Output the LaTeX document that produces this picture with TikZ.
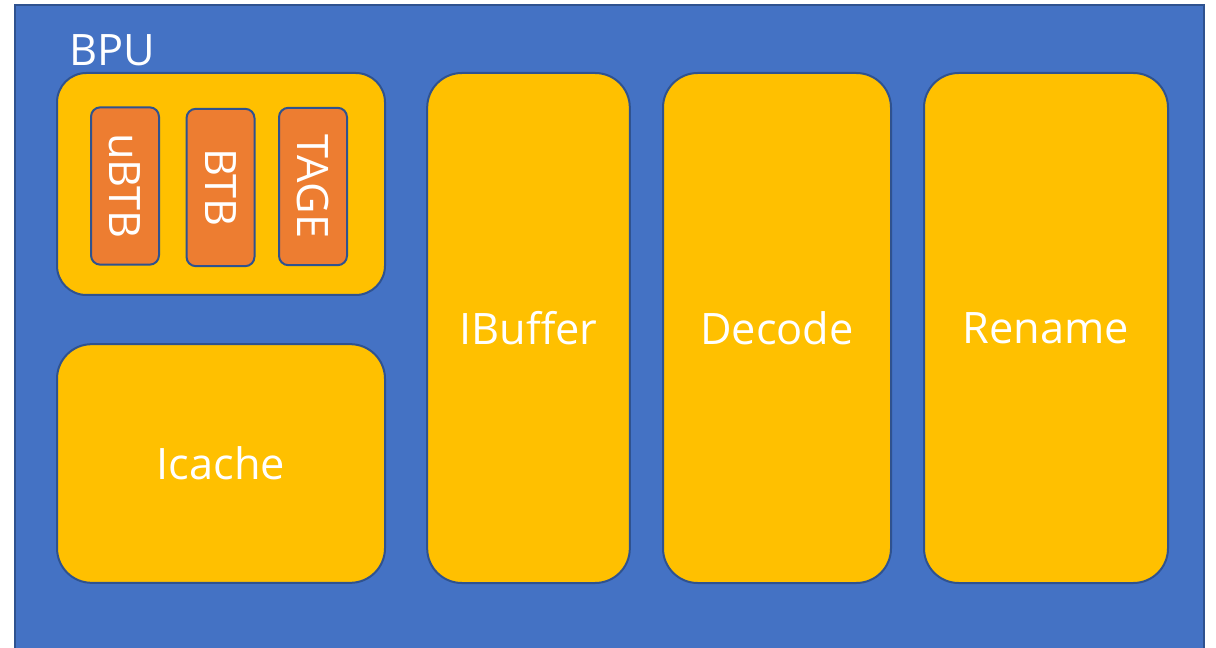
\documentclass[tikz,border=0pt]{standalone}
\usepackage{fontspec}
\setmainfont{Open Sans}
\definecolor{bgblue}{HTML}{4472C4}
\definecolor{edgeblue}{HTML}{2F528F}
\definecolor{unityellow}{HTML}{FFC000}
\definecolor{suborange}{HTML}{ED7D31}
\newcommand{\labelfont}{\fontsize{32.5}{38}\selectfont}
\tikzset{
  unitbox/.style={draw=edgeblue, line width=1.5pt, fill=unityellow, rounded corners=26pt, inner sep=0pt, text=white, font=\labelfont},
  groupbox/.style={unitbox, rounded corners=22pt},
  subbox/.style={draw=edgeblue, line width=1.5pt, fill=suborange, rounded corners=7pt, inner sep=0pt, minimum width=51pt, minimum height=118pt},
  subtext/.style={text=white, rotate=-90, font=\labelfont, inner sep=0pt},
  lbl/.style={text=white, font=\labelfont, inner sep=0pt}
}
\begin{document}
\begin{tikzpicture}[x=0.75pt,y=-0.75pt]
\useasboundingbox (0,0) rectangle (1216,648);
\fill[white] (0,0) rectangle (1216,648);
\path[draw=edgeblue, line width=1.5pt, fill=bgblue] (15,5) rectangle (1204,680);
\node[lbl] (bpulabel) at (112,50) {BPU};
\node[groupbox, minimum width=246pt, minimum height=166.5pt] (bpu) at (221,184) {};
\node[subbox] (ubtb) at (125,186) {};
\node[subbox] (btb) at (220.5,187.5) {};
\node[subbox] (tage) at (313,186.5) {};
\node[subtext] at (ubtb.center) {uBTB};
\node[subtext] at (btb.center) {BTB};
\node[subtext] at (tage.center) {TAGE};
\node[unitbox, minimum width=246pt, minimum height=179pt] (icache) at (221,463.5) {Icache};
\node[unitbox, minimum width=152pt, minimum height=382.5pt] (ibuffer) at (528.5,328) {IBuffer};
\node[unitbox, minimum width=171pt, minimum height=382.5pt] (decode) at (777,328) {Decode};
\node[unitbox, minimum width=183pt, minimum height=382.5pt] (rename) at (1046,328) {Rename};
\end{tikzpicture}
\end{document}
